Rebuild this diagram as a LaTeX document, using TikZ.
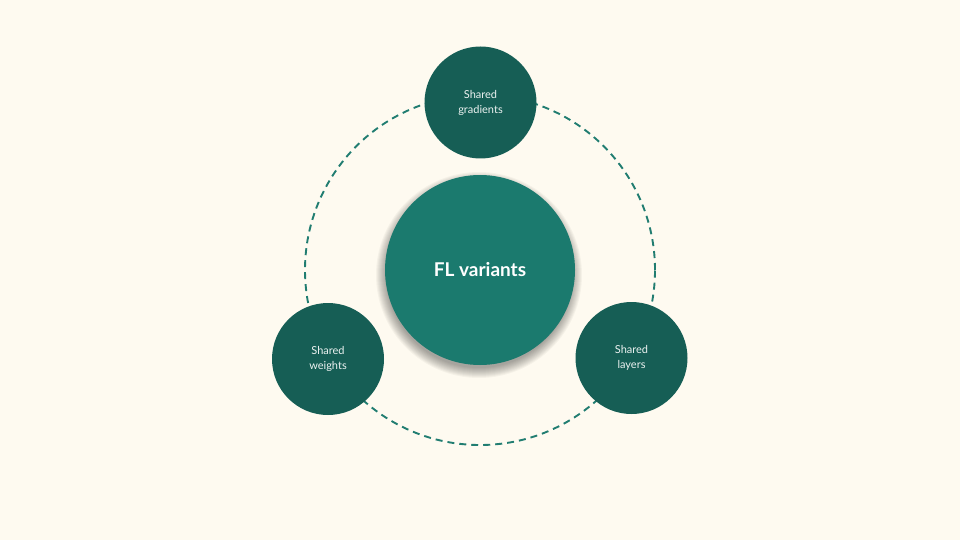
\documentclass[tikz,border=0pt]{standalone}
\usepackage{fontspec}
\setmainfont{Lato}
\usepackage{tikz}
\usetikzlibrary{positioning}

\begin{document}
\begin{tikzpicture}[x=1pt,y=-1pt]
\definecolor{page}{HTML}{FEFAF0}
\definecolor{hub area}{HTML}{1B7A6E}
\definecolor{leaf area}{HTML}{165E55}
\definecolor{ring edge}{HTML}{217D71}
\tikzset{
     hub/.style={circle, fill=hub area, minimum size=190pt, inner sep=0pt,
       text=white, font=\fontsize{19}{22}\selectfont\bfseries},
     leaf/.style={circle, fill=leaf area, minimum size=112pt, inner sep=0pt,
       text=white!92!leaf area, align=center, font=\fontsize{11}{15}\selectfont},
     ring/.style={draw=ring edge, line width=1.9pt, dash pattern=on 7pt off 5pt}}

% The page
\fill[page] (0,0) rectangle (960,540);
\useasboundingbox (0,0) rectangle (960,540);

% The dashed ring
\coordinate (middle) at (480,270);
\draw [ring] (middle) circle (175pt);

% The soft shadow
\foreach \r in {93,94,...,103}
  \fill[black, opacity=0.035] ([xshift=-1pt,yshift=-5pt]middle) circle (\r pt);

% The circles
\node (variants) [hub] at (middle) {FL variants};
\node (gradients) [leaf] at (480.5,102.5) {Shared\\gradients};
\node (weights)   [leaf] at (328,359)     {Shared\\weights};
\node (layers)    [leaf] at (631.5,358)   {Shared\\layers};
\end{tikzpicture}
\end{document}
